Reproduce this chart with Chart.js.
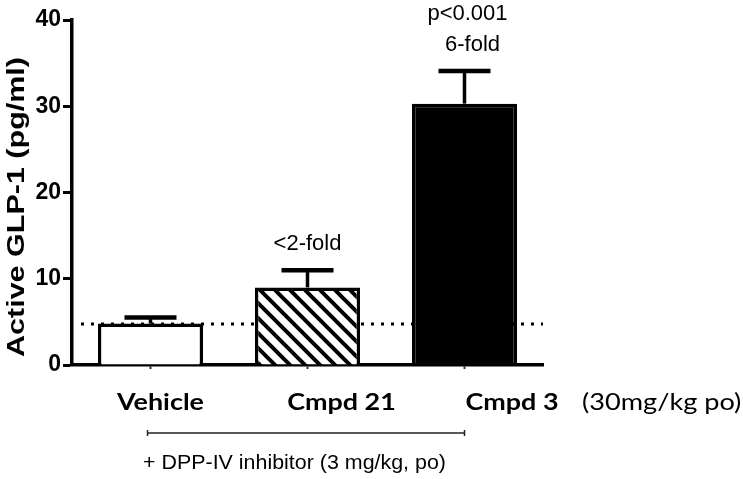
<!DOCTYPE html>
<html>
<head>
<meta charset="utf-8">
<script src="https://cdn.jsdelivr.net/npm/chart.js@4"></script>
<style>
  html, body { margin: 0; padding: 0; background: #fff; }
  #wrap { width: 743px; height: 479px; }
</style>
</head>
<body>
<div id="wrap"><canvas id="glpChart"></canvas></div>
<script>
// data
const groups = ['Vehicle', 'Cmpd 21', 'Cmpd 3'];
const means = [4.8, 9.0, 30.3];
const sems = [0.7, 2.0, 3.8];
const baselineValue = 4.75;          // dotted line = vehicle level
const yTicks = [0, 10, 20, 30, 40];
const foldNotes = ['', '<2-fold', '6-fold'];
const pNotes = ['', '', 'p<0.001'];
const doseNote = '(30mg/kg po)';
const bracketNote = '+ DPP-IV inhibitor (3 mg/kg, po)';
const yTitle = 'Active GLP-1 (pg/ml)';

// diagonal hatch for Cmpd 21
function makeHatch() {
  const s = 15;
  const c = document.createElement('canvas');
  c.width = s; c.height = s;
  const g = c.getContext('2d');
  g.fillStyle = '#fff';
  g.fillRect(0, 0, s, s);
  g.strokeStyle = '#000';
  g.lineWidth = 4;
  g.beginPath();
  g.moveTo(-s, -s); g.lineTo(2 * s, 2 * s);
  g.moveTo(-s, 0); g.lineTo(s, 2 * s);
  g.moveTo(0, -s); g.lineTo(2 * s, s);
  g.stroke();
  return document.getElementById('glpChart').getContext('2d').createPattern(c, 'repeat');
}

const fills = ['#ffffff', makeHatch(), '#000000'];

// draw text squeezed/stretched horizontally to mimic the pasted labels
function stretchedText(ctx, text, x, y, sx, align) {
  ctx.save();
  ctx.translate(x, y);
  ctx.scale(sx, 1);
  ctx.textAlign = align;
  ctx.fillText(text, 0, 0);
  ctx.restore();
}

// error bars, dotted baseline and the loose text around the plot
const extrasPlugin = {
  id: 'extras',
  beforeDatasetsDraw(chart) {
    const ctx = chart.ctx;
    const y = chart.scales.y.getPixelForValue(baselineValue);
    ctx.save();
    ctx.strokeStyle = '#000';
    ctx.lineWidth = 3;
    ctx.setLineDash([3, 7]);
    ctx.beginPath();
    ctx.moveTo(chart.chartArea.left + 9, y);
    ctx.lineTo(chart.chartArea.right, y);
    ctx.stroke();
    ctx.restore();
  },
  afterDatasetsDraw(chart) {
    const ctx = chart.ctx;
    const ys = chart.scales.y;
    const bars = chart.getDatasetMeta(0).data;
    ctx.save();
    ctx.strokeStyle = '#000';
    ctx.lineCap = 'butt';
    bars.forEach((bar, i) => {
      const top = ys.getPixelForValue(means[i] + sems[i]);
      const base = ys.getPixelForValue(means[i]);
      ctx.lineWidth = 3.5;
      ctx.beginPath();
      ctx.moveTo(bar.x, base);
      ctx.lineTo(bar.x, top);
      ctx.stroke();
      ctx.lineWidth = 4.5;
      ctx.beginPath();
      ctx.moveTo(bar.x - 26, top);
      ctx.lineTo(bar.x + 26, top);
      ctx.stroke();
    });
    ctx.restore();
  },
  afterDraw(chart) {
    const ctx = chart.ctx;
    const xs = chart.scales.x;
    const ys = chart.scales.y;
    ctx.save();
    ctx.fillStyle = '#000';

    // annotations above the bars
    ctx.textAlign = 'center';
    ctx.textBaseline = 'middle';
    ctx.font = '22px "Liberation Sans", Arial, sans-serif';
    groups.forEach((g, i) => {
      const top = ys.getPixelForValue(means[i] + sems[i]);
      const x = xs.getPixelForValue(i);
      if (foldNotes[i]) ctx.fillText(foldNotes[i], x + (i === 2 ? 8 : 0), top - 26);
      if (pNotes[i]) ctx.fillText(pNotes[i], x + 3, top - 57);
    });

    // category labels (pasted a little right of the ticks in the original)
    const shift = [10, 34, 47];
    ctx.font = 'bold 23px Lato, "Open Sans", sans-serif';
    ctx.textBaseline = 'alphabetic';
    groups.forEach((g, i) => {
      const x = xs.getPixelForValue(i) + (i === 2 ? 1 : shift[i]);
      stretchedText(ctx, g, x, 410, 1.17, i === 2 ? 'left' : 'center');
    });
    ctx.font = '23px Lato, "Open Sans", sans-serif';
    stretchedText(ctx, doseNote, 582, 410, 1.18, 'left');

    // bracket for the DPP-IV co-dose
    const bx0 = xs.getPixelForValue(0) - 3;
    const bx1 = xs.getPixelForValue(2);
    ctx.strokeStyle = '#222';
    ctx.lineWidth = 1.5;
    ctx.beginPath();
    ctx.moveTo(bx0, 433); ctx.lineTo(bx1, 433);
    ctx.moveTo(bx0, 430); ctx.lineTo(bx0, 436);
    ctx.moveTo(bx1, 430); ctx.lineTo(bx1, 436);
    ctx.stroke();
    ctx.font = '21px "Liberation Sans", Arial, sans-serif';
    ctx.textBaseline = 'middle';
    stretchedText(ctx, bracketNote, 143, 463, 1.02, 'left');

    // y-axis title, stretched along its baseline like the original
    ctx.translate(24, 207);
    ctx.rotate(-Math.PI / 2);
    ctx.font = 'bold 23px "Liberation Sans", Arial, sans-serif';
    const w = ctx.measureText(yTitle).width;
    ctx.scale(300 / w, 1);
    ctx.textAlign = 'center';
    ctx.textBaseline = 'alphabetic';
    ctx.fillText(yTitle, 0, 0);
    ctx.restore();
  }
};

new Chart(document.getElementById('glpChart'), {
  type: 'bar',
  data: {
    labels: groups,
    datasets: [{
      data: means,
      backgroundColor: fills,
      borderColor: '#000',
      borderWidth: 3.5,
      borderSkipped: 'start',
      barPercentage: 0.67,
      categoryPercentage: 1
    }]
  },
  options: {
    responsive: true,
    maintainAspectRatio: false,
    animation: false,
    events: [],
    layout: { padding: { left: 0, right: 200, top: 20, bottom: 0 } },
    plugins: {
      legend: { display: false },
      tooltip: { enabled: false }
    },
    scales: {
      x: {
        offset: true,
        grid: { offset: false, drawOnChartArea: false, drawTicks: true, tickLength: 4, tickWidth: 2, color: '#333' },
        border: { color: '#000', width: 3.5 },
        ticks: { display: false },
        afterFit(scale) { scale.height = 114; }
      },
      y: {
        min: 0,
        max: 40,
        afterBuildTicks(scale) { scale.ticks = yTicks.map(v => ({ value: v })); },
        grid: { drawOnChartArea: false, drawTicks: true, tickLength: 9, tickWidth: 3, color: '#000' },
        border: { color: '#000', width: 3.5 },
        ticks: {
          color: '#000',
          padding: 2,
          font: { family: '"Liberation Sans", Arial, sans-serif', size: 23, weight: 'bold' }
        },
        afterFit(scale) { scale.width = 72; }
      }
    }
  },
  plugins: [extrasPlugin]
});
</script>
</body>
</html>
